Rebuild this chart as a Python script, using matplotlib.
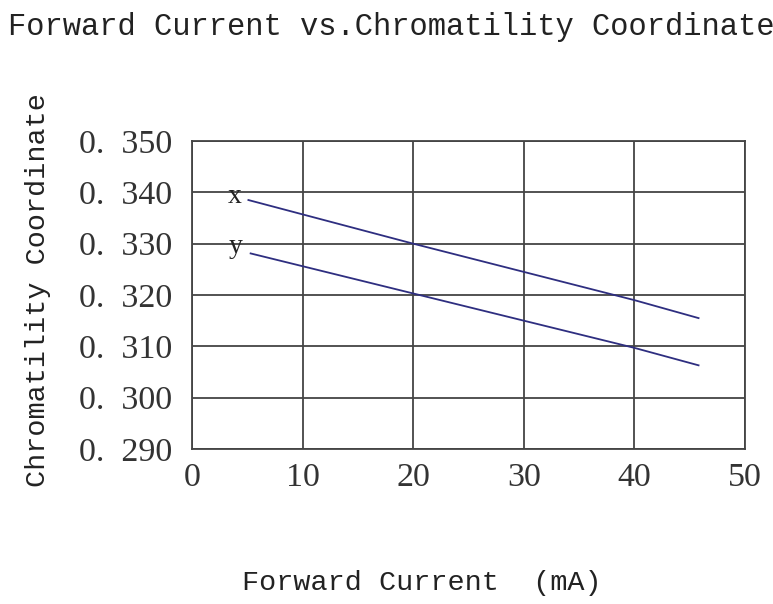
import matplotlib
matplotlib.use("Agg")
import matplotlib.pyplot as plt

# Data
x_current = [5.1, 20, 40, 45.8]
x_coord = [0.3385, 0.330, 0.319, 0.3155]
y_current = [5.3, 20, 40, 45.8]
y_coord = [0.3281, 0.3203, 0.3097, 0.3063]
xticks = [0, 10, 20, 30, 40, 50]
yticks = [0.290, 0.300, 0.310, 0.320, 0.330, 0.340, 0.350]
ytick_labels = ["0.  290", "0.  300", "0.  310", "0.  320", "0.  330", "0.  340", "0.  350"]
title = "Forward Current vs.Chromatility Coordinate"
xlabel = "Forward Current  (mA)"
ylabel = "Chromatility Coordinate"

W, H = 773, 604
fig = plt.figure(figsize=(W / 100, H / 100), dpi=100)
ax = fig.add_axes([192 / W, 1 - 449 / H, (745 - 192) / W, (449 - 141) / H])

line_color = "#2e2e80"
ax.plot(x_current, x_coord, color=line_color, lw=1.3)
ax.plot(y_current, y_coord, color=line_color, lw=1.3)
ax.text(3.9, 0.3391, "x", family="Liberation Serif", fontsize=20, ha="center", va="center", color="#222")
ax.text(3.9, 0.3294, "y", family="Liberation Serif", fontsize=20, ha="center", va="center", color="#222")

ax.set_xlim(0, 50)
ax.set_ylim(0.290, 0.350)
ax.set_xticks(xticks)
ax.set_xticklabels([str(t) for t in xticks], family="Liberation Serif", fontsize=24.5, color="#333")
ax.set_yticks(yticks)
ax.set_yticklabels(ytick_labels, family="Liberation Serif", fontsize=24.5, color="#333")
ax.tick_params(axis="y", length=0, pad=14)
ax.tick_params(axis="x", length=0, pad=10)
ax.grid(True, color="#444", lw=1.3)
for s in ax.spines.values():
    s.set_color("#444")
    s.set_linewidth(1.3)

fig.text(8 / W, 1 - 27 / H, title, family="Liberation Mono", fontsize=22, ha="left", va="center", color="#222")
fig.text(422 / W, 1 - 583 / H, xlabel, family="Liberation Mono", fontsize=20.5, ha="center", va="center", color="#222")
fig.text(38 / W, 1 - 290 / H, ylabel, family="Liberation Mono", fontsize=20.5, ha="center", va="center", rotation=90, color="#222")

fig.savefig("out.png", dpi=100)
